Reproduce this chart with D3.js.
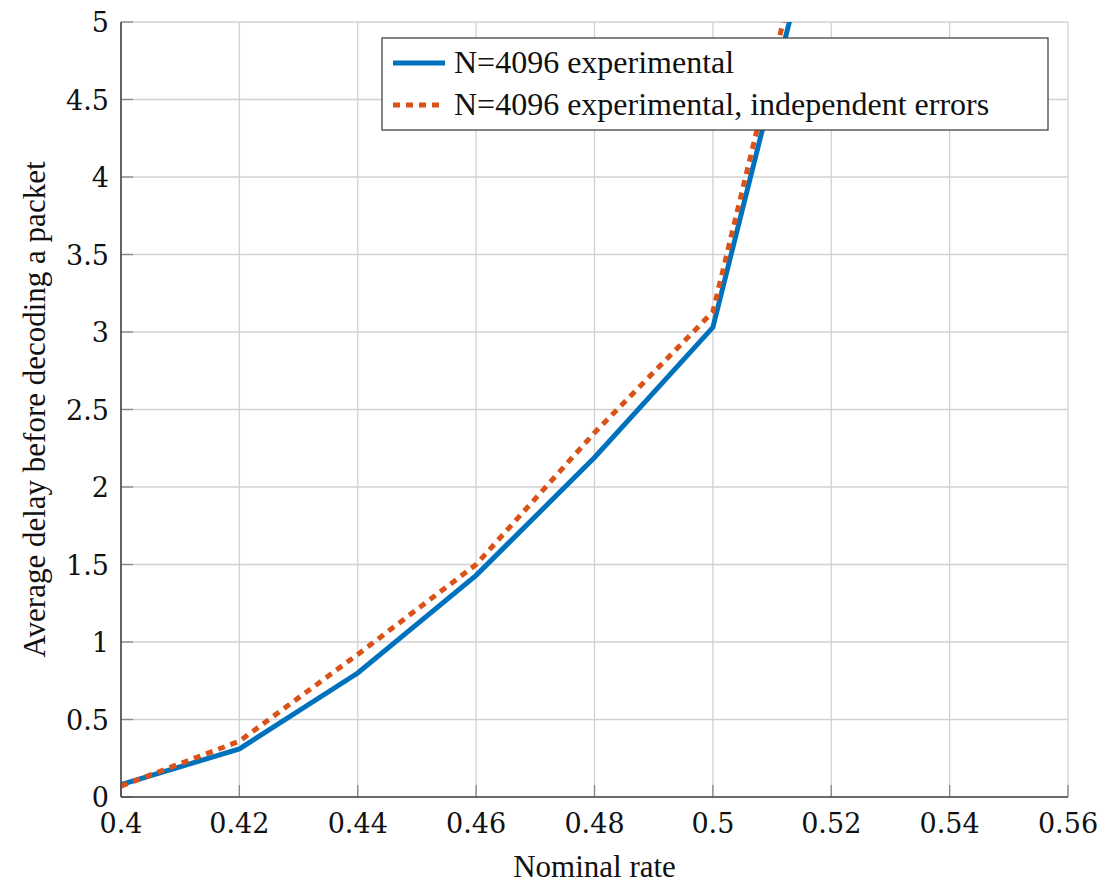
<!DOCTYPE html>
<html>
<head>
  <meta charset="UTF-8">
  <style>
    body { margin: 0; padding: 0; background: #fff; }
    svg { display: block; }
    text { fill: #111; }
  </style>
</head>
<body>
<svg></svg>
<script src="https://d3js.org/d3.v7.min.js"></script>
<script>
  let width = 1101, height = 884;

  // data
  let rates = [0.40, 0.42, 0.44, 0.46, 0.48, 0.50, 0.52];
  let delayExp = [0.08, 0.31, 0.80, 1.43, 2.19, 3.03, 6.08];
  let delayIndep = [0.07, 0.36, 0.92, 1.50, 2.35, 3.13, 6.28];
  let xTicks = [0.4, 0.42, 0.44, 0.46, 0.48, 0.5, 0.52, 0.54, 0.56];
  let yTicks = [0, 0.5, 1, 1.5, 2, 2.5, 3, 3.5, 4, 4.5, 5];
  let seriesNames = ["N=4096 experimental", "N=4096 experimental, independent errors"];

  let pLeft = 121, pRight = 1068, pTop = 22, pBottom = 797;
  let tickFont = "DejaVu Serif";
  let textFont = "Liberation Serif";

  let svg = d3.select("svg").attr("width", width).attr("height", height);

  let x = d3.scaleLinear().domain([0.4, 0.56]).range([pLeft, pRight]);
  let y = d3.scaleLinear().domain([0, 5]).range([pBottom, pTop]);

  // grid
  let grid = svg.append("g");
  grid.selectAll(".gx").data(xTicks).enter().append("line")
      .attr("x1", d => x(d)).attr("x2", d => x(d))
      .attr("y1", pTop).attr("y2", pBottom)
      .attr("stroke", "#d2d2d2").attr("stroke-width", 1.3);
  grid.selectAll(".gy").data(yTicks).enter().append("line")
      .attr("x1", pLeft).attr("x2", pRight)
      .attr("y1", d => y(d)).attr("y2", d => y(d))
      .attr("stroke", "#d2d2d2").attr("stroke-width", 1.3);

  // small ticks inside axes
  grid.selectAll(".tx").data(xTicks).enter().append("line")
      .attr("x1", d => x(d)).attr("x2", d => x(d))
      .attr("y1", pBottom).attr("y2", pBottom - 12)
      .attr("stroke", "#888").attr("stroke-width", 1.3);
  grid.selectAll(".ty").data(yTicks).enter().append("line")
      .attr("x1", pLeft).attr("x2", pLeft + 12)
      .attr("y1", d => y(d)).attr("y2", d => y(d))
      .attr("stroke", "#888").attr("stroke-width", 1.3);

  // lines, clipped to plot box
  svg.append("clipPath").attr("id", "clip")
    .append("rect").attr("x", pLeft).attr("y", pTop)
    .attr("width", pRight - pLeft).attr("height", pBottom - pTop);

  let line = d3.line().x(d => x(d[0])).y(d => y(d[1]));

  let plot = svg.append("g").attr("clip-path", "url(#clip)");
  plot.append("path")
      .attr("d", line(rates.map((r, i) => [r, delayExp[i]])))
      .attr("fill", "none").attr("stroke", "#0072BD").attr("stroke-width", 5);
  plot.append("path")
      .attr("d", line(rates.map((r, i) => [r, delayIndep[i]])))
      .attr("fill", "none").attr("stroke", "#D95319").attr("stroke-width", 5)
      .attr("stroke-dasharray", "7,6");

  // axis lines (left & bottom)
  svg.append("line").attr("x1", pLeft).attr("x2", pLeft).attr("y1", pTop).attr("y2", pBottom)
      .attr("stroke", "#444").attr("stroke-width", 1.6);
  svg.append("line").attr("x1", pLeft).attr("x2", pRight).attr("y1", pBottom).attr("y2", pBottom)
      .attr("stroke", "#444").attr("stroke-width", 1.6);

  // tick labels
  svg.selectAll(".xl").data(xTicks).enter().append("text")
      .attr("x", d => x(d)).attr("y", pBottom + 36)
      .attr("text-anchor", "middle").attr("font-size", "27px")
      .attr("font-family", tickFont)
      .text(d => d);
  svg.selectAll(".yl").data(yTicks).enter().append("text")
      .attr("x", pLeft - 12).attr("y", d => y(d) + 10)
      .attr("text-anchor", "end").attr("font-size", "27px")
      .attr("font-family", tickFont)
      .text(d => d);

  // axis titles
  svg.append("text")
      .attr("x", (pLeft + pRight) / 2).attr("y", 877)
      .attr("text-anchor", "middle").attr("font-size", "31px")
      .attr("font-family", textFont)
      .text("Nominal rate");
  svg.append("text")
      .attr("transform", `translate(45, ${(pTop + pBottom) / 2}) rotate(-90)`)
      .attr("text-anchor", "middle").attr("font-size", "31px")
      .attr("font-family", textFont)
      .text("Average delay before decoding a packet");

  // legend
  let legend = svg.append("g").attr("transform", "translate(382, 38)");
  legend.append("rect").attr("width", 666).attr("height", 92)
      .attr("fill", "#fff").attr("stroke", "#444").attr("stroke-width", 1.3);
  let colors = ["#0072BD", "#D95319"];
  seriesNames.forEach((name, i) => {
    let g = legend.append("g").attr("transform", `translate(0, ${25 + i * 42})`);
    g.append("line").attr("x1", 11).attr("x2", 63).attr("y1", 0).attr("y2", 0)
        .attr("stroke", colors[i]).attr("stroke-width", 5)
        .attr("stroke-dasharray", i === 1 ? "7,6" : null);
    g.append("text").attr("x", 72).attr("y", 10)
        .attr("font-size", "32px").attr("font-family", textFont).text(name);
  });
</script>
</body>
</html>
